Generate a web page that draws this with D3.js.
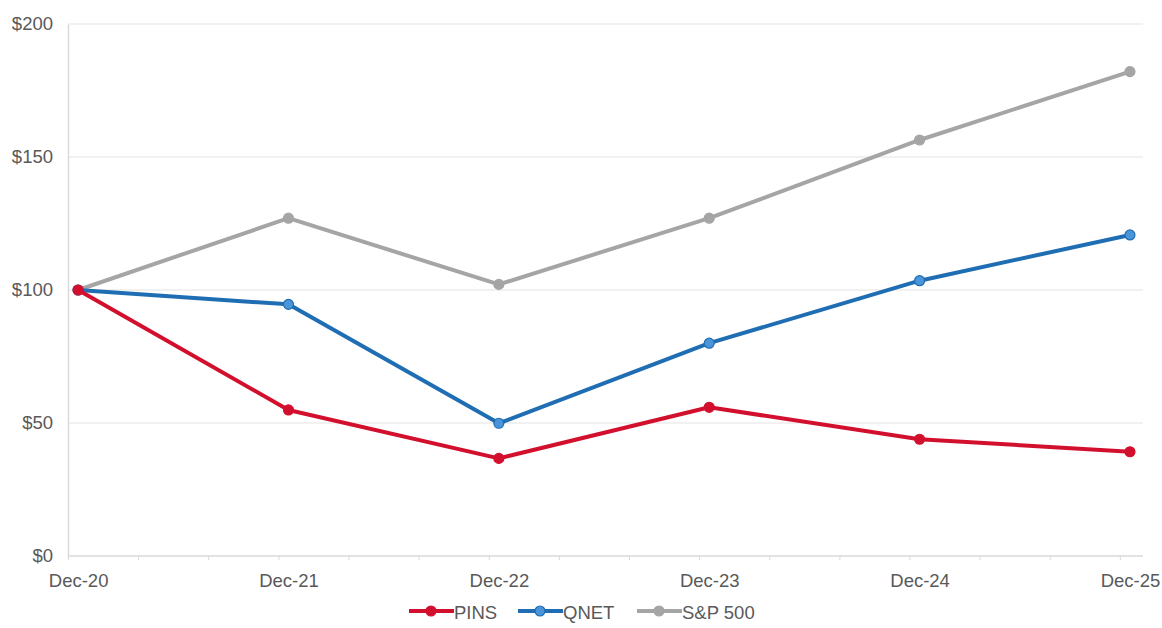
<!DOCTYPE html>
<html>
<head>
<meta charset="utf-8">
<script src="https://cdn.jsdelivr.net/npm/d3@7"></script>
<style>
  html, body { margin: 0; padding: 0; background: #ffffff; }
  svg { display: block; }
  text { font-family: "Liberation Sans", Arial, sans-serif; fill: #595959; }
</style>
</head>
<body>
<svg id="chart" width="1162" height="628"></svg>
<script>
// ---- data ----
const categories = ["Dec-20", "Dec-21", "Dec-22", "Dec-23", "Dec-24", "Dec-25"];
const pins  = [100, 54.9, 36.7, 55.9, 43.9, 39.2];
const qnet  = [100, 94.6, 49.9, 80.0, 103.5, 120.7];
const sp500 = [100, 127.0, 102.1, 127.0, 156.4, 182.1];
const seriesNames = ["PINS", "QNET", "S&P 500"];
const yTicks = [0, 50, 100, 150, 200];

(function () {
// ---- layout ----
const svg = d3.select("#chart");
const pLeft = 68, pRight = 1143, pTop = 24, pBottom = 556;

const x = d3.scaleLinear().domain([-0.048, 5.062]).range([pLeft, pRight]);
const y = d3.scaleLinear().domain([0, 200]).range([pBottom, pTop]);

const colors = { "PINS": "#D2102E", "QNET": "#1F6DB3", "S&P 500": "#A5A5A5" };
const markerFill = { "PINS": "#D2102E", "QNET": "#4A95DA", "S&P 500": "#A5A5A5" };

// gridlines
svg.append("g")
  .selectAll("line")
  .data(yTicks.filter(d => d > 0))
  .join("line")
  .attr("x1", pLeft).attr("x2", pRight)
  .attr("y1", d => y(d)).attr("y2", d => y(d))
  .attr("stroke", "#EDEDED").attr("stroke-width", 1.5);

// y axis
const yAxis = d3.axisLeft(y).tickValues(yTicks).tickFormat(d => "$" + d).tickSize(0).tickPadding(15);
const gy = svg.append("g").attr("transform", `translate(${pLeft},0)`).call(yAxis);
gy.select(".domain").attr("stroke", "#D9D9D9").attr("stroke-width", 1.5);
gy.selectAll("text").style("font-size", "18.5px").style("font-family", "Liberation Sans, Arial, sans-serif").attr("fill", "#595959");

// x axis: minor ticks (every 1/3 of a year) and labels
const minorTicks = d3.range(0, 16).map(k => -0.048 + k / 3);
const xAxisMinor = d3.axisBottom(x).tickValues(minorTicks).tickSize(4).tickFormat("");
const gx = svg.append("g").attr("transform", `translate(0,${pBottom})`).call(xAxisMinor);
gx.select(".domain").attr("stroke", "#D9D9D9").attr("stroke-width", 1.5).attr("d", `M${pLeft},0H${pRight}`);
gx.selectAll(".tick line").attr("stroke", "#D9D9D9");

const xAxisLabels = d3.axisBottom(x).tickValues(d3.range(categories.length)).tickFormat(i => categories[i]).tickSize(0).tickPadding(18);
const gxl = svg.append("g").attr("transform", `translate(0,${pBottom})`).call(xAxisLabels);
gxl.select(".domain").remove();
gxl.selectAll("text").style("font-size", "18.5px").style("font-family", "Liberation Sans, Arial, sans-serif").attr("fill", "#595959");

// lines
const seriesData = [
  { name: "S&P 500", values: sp500 },
  { name: "QNET", values: qnet },
  { name: "PINS", values: pins }
];
const line = d3.line().x((d, i) => x(i)).y(d => y(d));

const gs = svg.append("g").selectAll("g").data(seriesData).join("g");
gs.append("path")
  .attr("d", d => line(d.values))
  .attr("fill", "none")
  .attr("stroke", d => colors[d.name])
  .attr("stroke-width", 4)
  .attr("stroke-linejoin", "round");
gs.selectAll("circle")
  .data(d => d.values.map((v, i) => ({ v, i, name: d.name })))
  .join("circle")
  .attr("cx", d => x(d.i)).attr("cy", d => y(d.v)).attr("r", 5)
  .attr("fill", d => markerFill[d.name])
  .attr("stroke", d => colors[d.name]).attr("stroke-width", 1.2);

// legend
const legendX = [409, 518, 637];
const legendY = 611;
const lg = svg.append("g").selectAll("g").data(seriesNames).join("g")
  .attr("transform", (d, i) => `translate(${legendX[i]},${legendY})`);
lg.append("line").attr("x1", 0).attr("x2", 45).attr("y1", 0).attr("y2", 0)
  .attr("stroke", d => colors[d]).attr("stroke-width", 4);
lg.append("circle").attr("cx", 22).attr("cy", 0).attr("r", 5)
  .attr("fill", d => markerFill[d]).attr("stroke", d => colors[d]).attr("stroke-width", 1.2);
lg.append("text").attr("x", 45).attr("y", 7.5).text(d => d).style("font-size", "18.5px");
})();
</script>
</body>
</html>
